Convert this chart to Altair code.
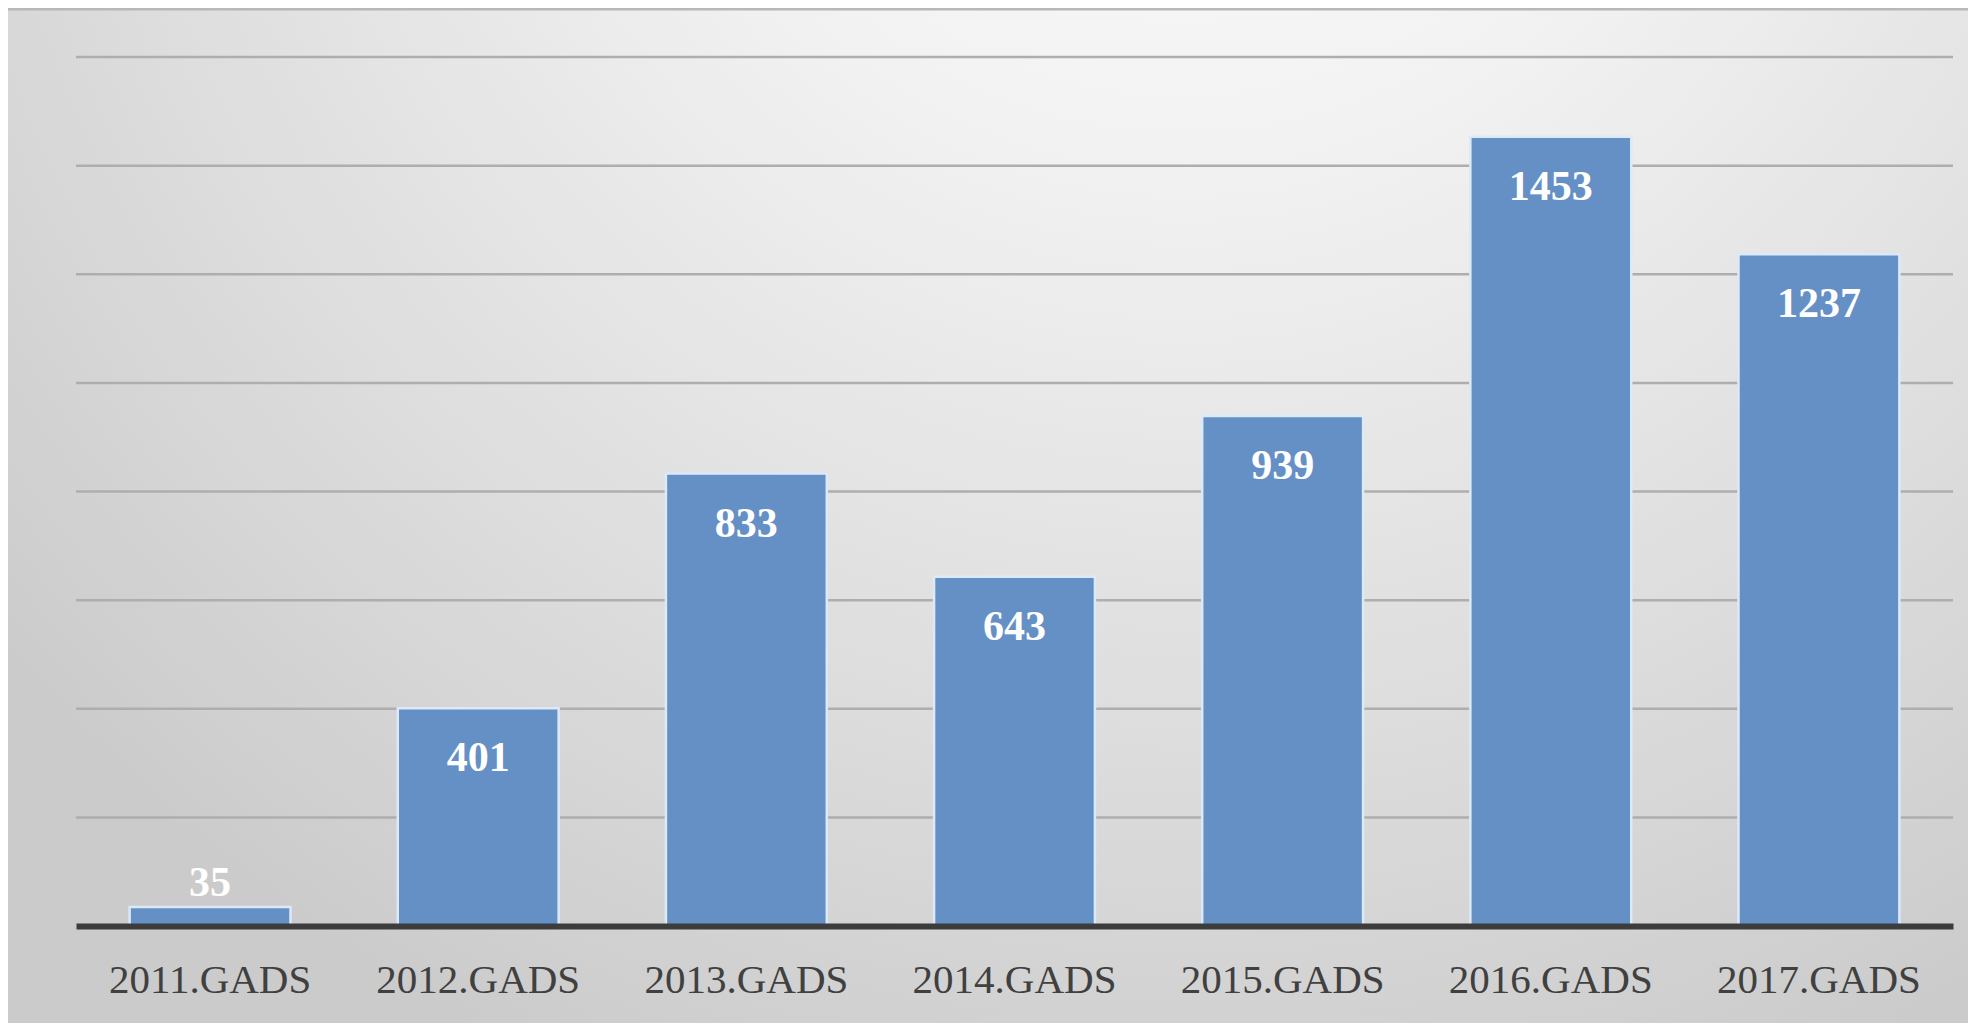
import altair as alt
import pandas as pd

categories = ["2011.GADS", "2012.GADS", "2013.GADS", "2014.GADS",
              "2015.GADS", "2016.GADS", "2017.GADS"]
values = [35, 401, 833, 643, 939, 1453, 1237]
y_ticks = [200, 400, 600, 800, 1000, 1200, 1400, 1600]

df = pd.DataFrame({"category": categories, "value": values})
grid_df = pd.DataFrame({"tick": y_ticks})

W, H = 1877, 869
PL, PT, PR, PB = 68, 49, 15, 97

bg = alt.Chart(pd.DataFrame({"k": [0]})).mark_rect(
    color={
        "gradient": "radial",
        "x1": 0.6, "y1": 0.05, "r1": 0,
        "x2": 0.6, "y2": 0.05, "r2": 0.8,
        "stops": [
            {"offset": 0, "color": "#fefefe"},
            {"offset": 0.35, "color": "#f1f1f1"},
            {"offset": 0.7, "color": "#dddddd"},
            {"offset": 1, "color": "#cbcbcb"},
        ],
    }
).encode(
    x=alt.value(-PL), x2=alt.value(W + PR),
    y=alt.value(-PT), y2=alt.value(H + PB),
)

top_border = alt.Chart(pd.DataFrame({"k": [0]})).mark_rule(
    color="#b8b8b8", strokeWidth=3
).encode(x=alt.value(-PL), x2=alt.value(W + PR), y=alt.value(-PT + 1))

y_scale = alt.Scale(domain=[0, 1600], nice=False)

grid = alt.Chart(grid_df).mark_rule(
    color="#aeaeae", strokeWidth=2.5
).encode(
    y=alt.Y("tick:Q", scale=y_scale, axis=None),
    x=alt.value(0), x2=alt.value(W),
)

x_enc = alt.X(
    "category:N", sort=categories,
    scale=alt.Scale(paddingInner=0.4, paddingOuter=0.2),
    axis=alt.Axis(
        title=None, labelAngle=0, labelFont="Liberation Serif",
        labelFontSize=41, labelColor="#404040", labelPadding=34,
        labelLimit=400, ticks=False, domainColor="#3c3c3c",
        domainWidth=6, domainCap="butt", zindex=1, grid=False,
    ),
)
y_enc = alt.Y("value:Q", scale=y_scale, axis=None)

base = alt.Chart(df)

bars = base.mark_bar(
    color="#6590c6", stroke="#dce9f9", strokeWidth=2.5
).encode(x=x_enc, y=y_enc)

label_style = dict(font="Liberation Serif", fontSize=42, fontWeight="bold",
                   color="white", baseline="middle")

labels_in = base.transform_filter("datum.value >= 100").mark_text(
    dy=50, **label_style
).encode(x=x_enc, y=y_enc, text=alt.Text("value:Q"))

labels_out = base.transform_filter("datum.value < 100").mark_text(
    dy=-24, **label_style
).encode(x=x_enc, y=y_enc, text=alt.Text("value:Q"))

chart = alt.layer(bg, top_border, grid, bars, labels_in, labels_out).properties(
    width=W, height=H,
    padding={"left": PL, "top": PT, "right": PR, "bottom": PB},
    autosize="none",
    background="#d4d4d4",
).configure_view(stroke=None)

chart.save("out.html", embed_options={"renderer": "svg", "actions": False})
